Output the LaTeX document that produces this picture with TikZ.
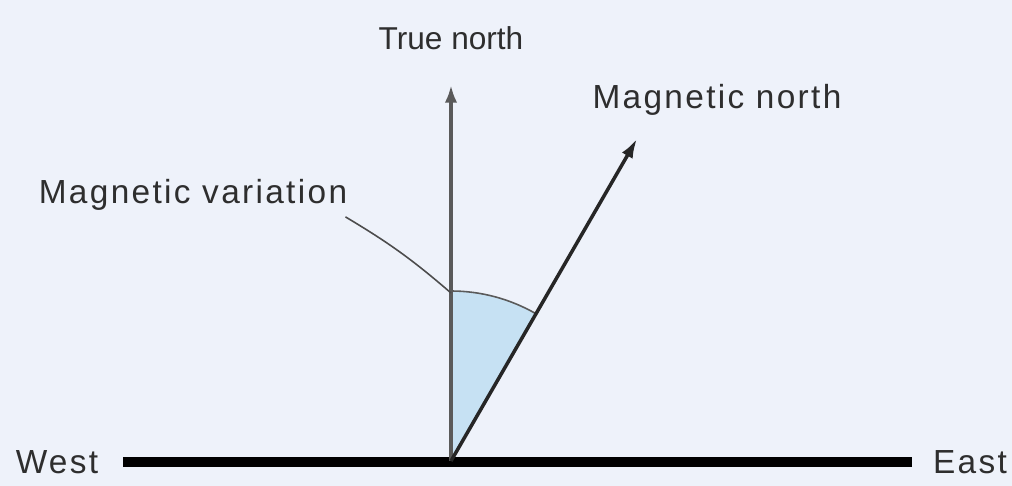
\documentclass[tikz,border=0pt]{standalone}
\usepackage{fontspec}
\setmainfont{Liberation Sans}
\usetikzlibrary{positioning, arrows.meta, calc}
\definecolor{bgpale}{HTML}{EEF2FA}
\definecolor{wedge}{HTML}{C6E1F3}
\definecolor{textmain}{HTML}{2E2E2E}
\definecolor{needle}{HTML}{5A5A5A}

\begin{document}
\begin{tikzpicture}[
    x=0.02cm, y=0.02cm,
    label/.style={text=textmain, font=\fontsize{19}{22}\selectfont\addfontfeature{LetterSpace=7}, inner sep=0pt},
    trueline/.style={-{Latex[length=10pt, width=7pt]}, line width=2pt, needle},
    magline/.style={-{Latex[length=11pt, width=7pt]}, line width=2pt, black!85},
    leader/.style={line width=0.9pt, black!70},
    ground/.style={line width=6pt, black}
  ]
    \fill[bgpale] (0,0) rectangle (1012,486);
    \useasboundingbox (0,0) rectangle (1012,486);

    \coordinate (o) at (451,25);
    \coordinate (tn) at (451,401);
    \coordinate (mn) at ($(o)+(60:372)$);

    % shaded angle between the two norths
    \fill[wedge] (o) -- ++(90:170) arc[start angle=90, end angle=60, radius=170] -- cycle;
    \draw[leader, needle] ($(o)+(90:170)$) arc[start angle=90, end angle=60, radius=170];

    \draw[ground] (123,24) coordinate (w) -- (912,24) coordinate (e);
    \draw[trueline] (o) -- (tn);
    \draw[magline] (o) -- (mn);

    \node[label] (west) at (57,24) {West};
    \node[label] (east) at (970,24) {East};
    \node[label, font=\fontsize{18}{22}\selectfont] (truenorth) at (451,448) {True north};
    \node[label] (magnorth) at (717,386) {Magnetic north};
    \node[label] (variation) at (193,291) {Magnetic variation};

    \coordinate (vartip) at ($(o)+(90:168)$);
    \draw[leader] (variation.south east) ++(-2,-6) to[bend left=5] (vartip);
  \end{tikzpicture}
\end{document}
